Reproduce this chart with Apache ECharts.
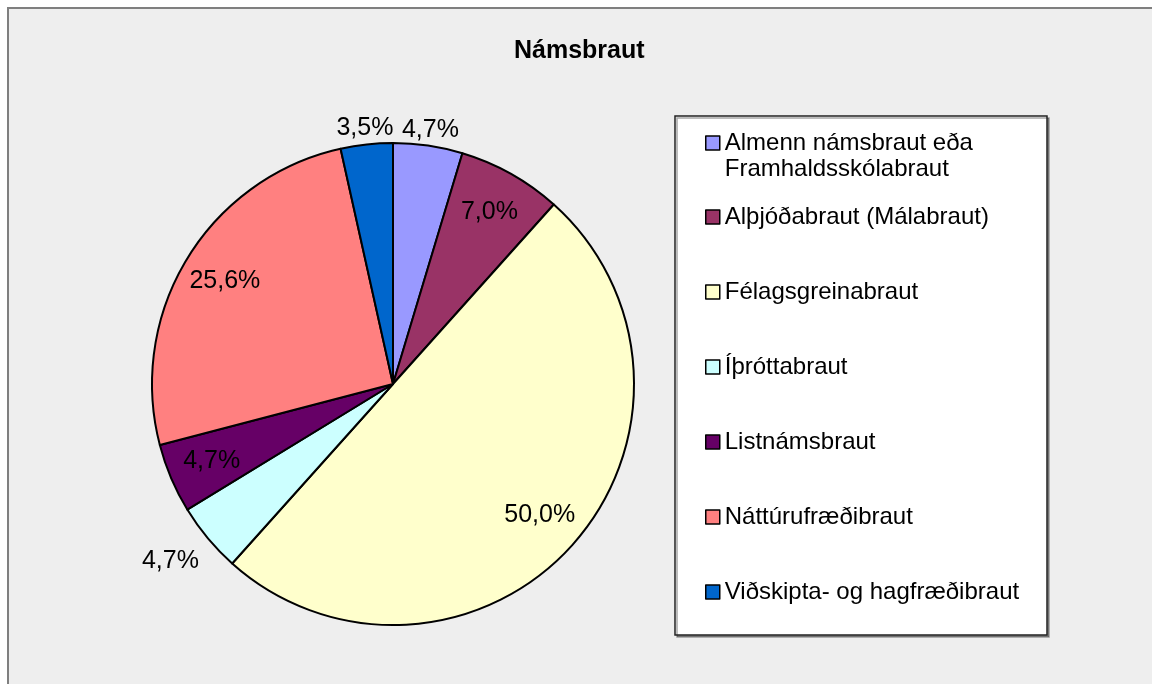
<!DOCTYPE html>
<html>
<head>
    <meta charset="utf-8" />
    <title>Námsbraut</title>
    <style type="text/css">
        body, html, #main {
            margin: 0;
            width: 100%;
            height: 100%;
            overflow: hidden;
            background: #fff;
        }
    </style>
    <script type="text/javascript" src="https://cdn.jsdelivr.net/npm/echarts@6/dist/echarts.min.js"></script>
</head>
<body>
    <div id="main"></div>
<script type="text/javascript">
    // gögn
    var categories = ['Almenn námsbraut eða Framhaldsskólabraut', 'Alþjóðabraut (Málabraut)', 'Félagsgreinabraut',
        'Íþróttabraut', 'Listnámsbraut', 'Náttúrufræðibraut', 'Viðskipta- og hagfræðibraut'];
    var counts = [4, 6, 43, 4, 4, 22, 3];
    var colors = ['#9999FF', '#993366', '#FFFFCC', '#CCFFFF', '#660066', '#FF8080', '#0066CC'];
    // hvar prósentan stendur: utan við sneiðina eða inni í henni
    var labelOutside = [true, false, false, true, false, false, true];

    var font = "'Liberation Sans', Arial, sans-serif";
    var cx = 393, cy = 384, r = 241;

    var total = 0;
    for (var i = 0; i < counts.length; i++) total += counts[i];

    // prósenta án jöfnunar, eins og í Excel (4,7% þrisvar)
    function pct(p) {
        return (p.value / total * 100).toFixed(1).replace('.', ',') + '%';
    }

    var mainData = [], innerData = [], outerData = [];
    for (var i = 0; i < categories.length; i++) {
        mainData.push({ name: categories[i], value: counts[i], itemStyle: { color: colors[i] } });
        innerData.push({ name: categories[i], value: counts[i], label: { show: !labelOutside[i] } });
        var o = { name: categories[i], value: counts[i], label: { show: labelOutside[i] } };
        if (categories[i] == 'Íþróttabraut') o.label.offset = [-25, 13];
        outerData.push(o);
    }

    var labelCommon = {
        position: 'inside',
        color: '#000',
        fontFamily: font,
        fontSize: 25,
        formatter: pct
    };

    var myChart = echarts.init(document.getElementById('main'));
    var option = {
        animation: false,
        title: {
            text: 'Námsbraut',
            left: 514,
            top: 39,
            padding: 0,
            textStyle: { fontFamily: font, fontSize: 25, fontWeight: 'bold', color: '#000' }
        },
        graphic: [
            {
                type: 'rect', z: -10,
                shape: { x: 8, y: 8, width: 1200, height: 720 },
                style: { fill: '#EEEEEE', stroke: '#7F7F7F', lineWidth: 2 }
            },
            {
                type: 'rect', z: -5,
                shape: { x: 675, y: 116, width: 372, height: 519 },
                style: {
                    fill: '#fff', stroke: '#222', lineWidth: 1.5,
                    shadowColor: 'rgba(0,0,0,0.35)', shadowOffsetX: 2, shadowOffsetY: 2, shadowBlur: 0
                }
            }
        ],
        legend: [
            {
                data: categories.slice(0, 1),
                orient: 'vertical',
                left: 705,
                top: 104,
                padding: 0,
                icon: 'rect',
                itemWidth: 14,
                itemHeight: 14,
                selectedMode: false,
                itemStyle: { borderColor: '#000', borderWidth: 1.5 },
                // fyrsta línan á að standa við reitinn
                formatter: function (name) { return '\n' + name.replace(' eða ', ' eða\n'); },
                textStyle: { fontFamily: font, fontSize: 24, lineHeight: 26, color: '#000' }
            },
            {
                data: categories.slice(1),
                orient: 'vertical',
                left: 705,
                top: 205,
                padding: 0,
                itemGap: 51,
                icon: 'rect',
                itemWidth: 14,
                itemHeight: 14,
                selectedMode: false,
                itemStyle: { borderColor: '#000', borderWidth: 1.5 },
                textStyle: { fontFamily: font, fontSize: 24, lineHeight: 23, color: '#000' }
            }
        ],
        series: [
            {
                name: 'Námsbraut',
                type: 'pie',
                center: [cx, cy],
                radius: [0, r],
                startAngle: 90,
                clockwise: true,
                silent: true,
                itemStyle: { borderColor: '#000', borderWidth: 2 },
                label: { show: false },
                labelLine: { show: false },
                emphasis: { disabled: true },
                data: mainData
            },
            {
                name: 'inni',
                type: 'pie',
                center: [cx, cy],
                radius: [147, r],
                startAngle: 90,
                silent: true,
                itemStyle: { color: 'rgba(0,0,0,0)', borderWidth: 0 },
                label: labelCommon,
                labelLine: { show: false },
                emphasis: { disabled: true },
                data: innerData
            },
            {
                name: 'utan',
                type: 'pie',
                center: [cx, cy],
                radius: [r, 267],
                startAngle: 90,
                silent: true,
                itemStyle: { color: 'rgba(0,0,0,0)', borderWidth: 0 },
                label: labelCommon,
                labelLine: { show: false },
                emphasis: { disabled: true },
                data: outerData
            }
        ]
    };
    myChart.setOption(option);
</script>
</body>
</html>
